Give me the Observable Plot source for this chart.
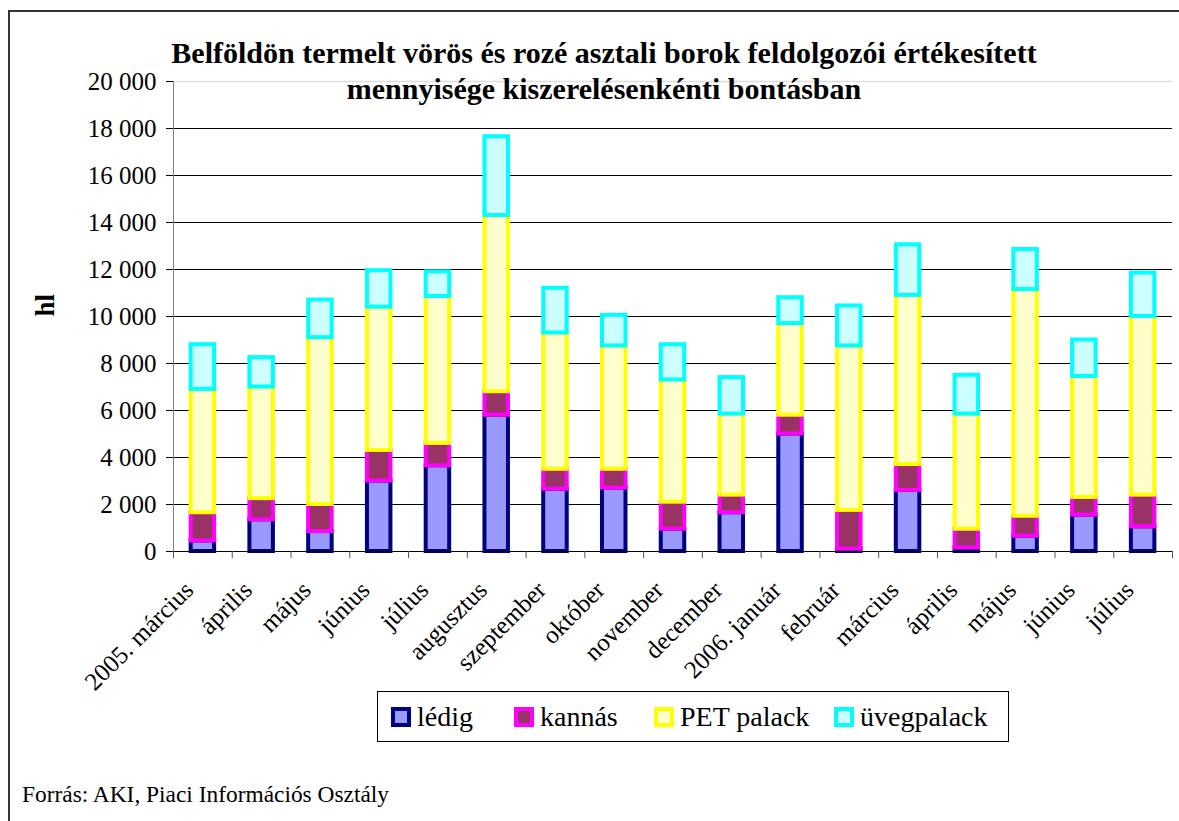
<!DOCTYPE html>
<html>
<head>
<meta charset="utf-8">
<script src="https://cdn.jsdelivr.net/npm/d3@7"></script>
<script src="https://cdn.jsdelivr.net/npm/@observablehq/plot@0.6"></script>
<style>
  html, body { margin: 0; padding: 0; background: #fff; overflow: hidden; }
  #wrap { position: relative; width: 1179px; height: 821px; overflow: hidden; font-family: "Liberation Serif", serif; color: #000; }
  #frame { position: absolute; left: 8px; top: 10px; width: 1200px; height: 900px; border: 2px solid #333; box-sizing: border-box; }
  #chart { position: absolute; left: 0; top: 0; }
  #title { position: absolute; left: 104px; width: 1000px; top: 35px; text-align: center; font-weight: bold; font-size: 30px; line-height: 36px; white-space: nowrap; }
  #legend { position: absolute; left: 377px; top: 691px; width: 632px; height: 51px; border: 1px solid #000; box-sizing: border-box; font-size: 28px; }
  .item { position: absolute; top: 0; height: 49px; display: flex; align-items: center; gap: 6px; white-space: nowrap; }
  .sw { width: 20px; height: 20px; box-sizing: border-box; border: 4px solid; }
  #caption { position: absolute; left: 22px; top: 783px; font-size: 23.4px; line-height: 23px; white-space: nowrap; }
</style>
</head>
<body>
<div id="wrap">
  <div id="frame"></div>
  <div id="chart"></div>
  <div id="title"></div>
  <div id="legend"></div>
  <div id="caption"></div>
</div>
<script>
// ---- data ----
const periods = ["2005-03","2005-04","2005-05","2005-06","2005-07","2005-08","2005-09","2005-10","2005-11","2005-12","2006-01","2006-02","2006-03","2006-04","2006-05","2006-06","2006-07"];
const labels = ["2005. március","április","május","június","július","augusztus","szeptember","október","november","december","2006. január","február","március","április","május","június","július"];
const seriesNames = ["lédig","kannás","PET palack","üvegpalack"];
const ledig  = [450,1350,850,3000,3650,5800,2650,2700,950,1650,5000,100,2600,150,650,1550,1050];
const kannas = [1200,900,1150,1300,950,1000,850,800,1150,750,800,1650,1100,800,850,750,1350];
const pet    = [5250,4750,7100,6100,6250,7500,5800,5250,5200,3450,3900,7000,7200,4900,9650,5150,7600];
const uveg   = [1900,1250,1600,1550,1050,3350,1900,1300,1500,1550,1100,1700,2150,1650,1700,1550,1850];
const yTicks = [0,2000,4000,6000,8000,10000,12000,14000,16000,18000,20000];
const titleLines = ["Belföldön termelt vörös és rozé asztali borok feldolgozói értékesített", "mennyisége kiszerelésenkénti bontásban"];
const yLabel = "hl";
const caption = "Forrás: AKI, Piaci Információs Osztály";

// ---- styles ----
const fills   = {"lédig": "#9999FF", "kannás": "#993366", "PET palack": "#FFFFCC", "üvegpalack": "#CCFFFF"};
const strokes = {"lédig": "#000080", "kannás": "#FF00FF", "PET palack": "#FFFF00", "üvegpalack": "#00FFFF"};
const legendLeft = [13, 136, 276, 456];

const seriesValues = [ledig, kannas, pet, uveg];
const data = [];
seriesNames.forEach((s, si) => periods.forEach((p, i) => data.push({period: p, series: s, value: seriesValues[si][i]})));

const fmt = d3.formatLocale({thousands: "\u00a0", grouping: [3], decimal: ",", currency: ["", ""]}).format(",");

const W = 1179, H = 821, ML = 173, MR = 7, MT = 81, MB = 270;
const step = (W - ML - MR) / periods.length;
const font = "Liberation Serif, serif";

const chart = Plot.plot({
  width: W, height: H,
  marginLeft: ML, marginRight: MR, marginTop: MT, marginBottom: MB,
  style: {fontFamily: font, fontSize: "25px", background: "transparent", color: "#000", overflow: "visible"},
  x: {domain: periods, paddingInner: 0.6, paddingOuter: 0.3, round: false, axis: null},
  y: {domain: [0, 20000], axis: null},
  color: {type: "identity"},
  marks: [
    Plot.ruleY(yTicks.filter(t => t > 0 && t < 20000), {stroke: "#000", strokeWidth: 1}),
    Plot.ruleY([20000], {stroke: "#dddddd", strokeWidth: 1.5}),
    Plot.barY(data, {x: "period", y: "value", fill: d => fills[d.series], stroke: d => strokes[d.series], strokeWidth: 4, order: null}),
    Plot.ruleY([0], {stroke: "#000", strokeWidth: 1}),
    Plot.frame({anchor: "left", stroke: "#808080", strokeWidth: 1}),
    Plot.ruleX(periods, {x: d => d, y1: 0, y2: -300, dx: -step / 2, stroke: "#555"}),
    Plot.ruleX(periods.slice(-1), {x: d => d, y1: 0, y2: -300, dx: step / 2, stroke: "#555"}),
    Plot.axisY({ticks: yTicks, tickSize: 7, tickPadding: 10, tickFormat: fmt, label: null, fontSize: 25, stroke: "#000"}),
    Plot.text(periods, {x: d => d, frameAnchor: "bottom", text: (d, i) => labels[i], rotate: -45, textAnchor: "end", dx: -8, dy: 40, fontSize: 25, fill: "#000"}),
    Plot.text([yLabel], {frameAnchor: "left", text: d => d, dx: -128, rotate: -90, fontWeight: "bold", fontSize: 27, fill: "#000"})
  ]
});
document.getElementById("chart").appendChild(chart);

document.getElementById("title").innerHTML = titleLines.map(t => `<div>${t}</div>`).join("");
document.getElementById("legend").innerHTML = seriesNames.map((s, i) =>
  `<div class="item" style="left:${legendLeft[i]}px"><div class="sw" style="background:${fills[s]};border-color:${strokes[s]}"></div><span>${s}</span></div>`).join("");
document.getElementById("caption").textContent = caption;
</script>
</body>
</html>
